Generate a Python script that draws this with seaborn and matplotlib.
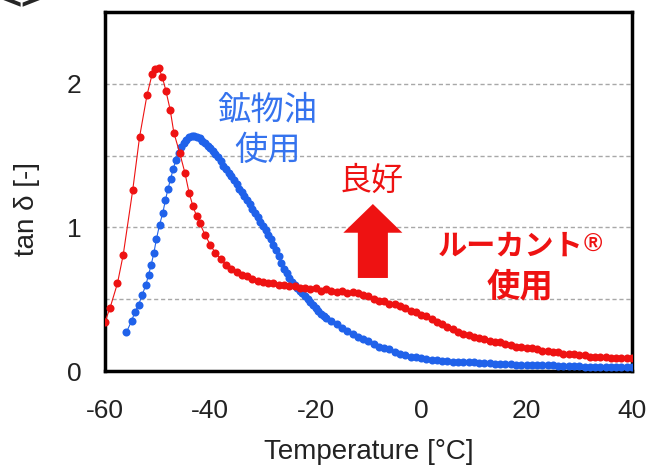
import numpy as np
import pandas as pd
import seaborn as sns
import matplotlib.pyplot as plt
from matplotlib.patches import FancyArrow

# ルーカント使用 (red)
red_temp = [-60.0, -59.0, -57.6, -56.5, -54.7, -53.4, -52.0, -51.0, -50.4, -49.8,
            -49.1, -48.4, -47.6, -46.9, -45.8, -44.8, -44.0, -43.3, -42.6,
            -42, -41, -40, -39, -38, -37, -36, -35, -34, -33, -32, -31, -30, -29,
            -28, -27, -26, -25, -24, -23, -22, -21, -20, -19, -18, -17, -16, -15,
            -14, -13, -12, -11, -10, -9, -8, -7, -6, -5, -4, -3, -2, -1, 0,
            1, 2, 3, 4, 5, 6, 7, 8, 9, 10, 11, 12, 13, 14, 15, 16, 17, 18, 19, 20,
            21, 22, 23, 24, 25, 26, 27, 28, 29, 30, 31, 32, 33, 34, 35, 36, 37, 38, 39, 40]
red_tan = [0.34, 0.44, 0.61, 0.81, 1.26, 1.63, 1.92, 2.07, 2.10, 2.11,
           2.05, 1.95, 1.82, 1.66, 1.52, 1.38, 1.24, 1.15, 1.08,
           1.03, 0.95, 0.88, 0.82, 0.78, 0.74, 0.71, 0.69, 0.67, 0.66, 0.64, 0.63, 0.62, 0.61,
           0.61, 0.60, 0.60, 0.59, 0.59, 0.58, 0.58, 0.57, 0.58, 0.56, 0.57, 0.56, 0.55, 0.56,
           0.54, 0.55, 0.54, 0.53, 0.52, 0.50, 0.49, 0.49, 0.47, 0.47, 0.45, 0.44, 0.42, 0.41, 0.39,
           0.38, 0.36, 0.34, 0.33, 0.31, 0.29, 0.27, 0.26, 0.25, 0.24, 0.23, 0.22, 0.21, 0.20, 0.20,
           0.19, 0.18, 0.17, 0.17, 0.16,
           0.16, 0.15, 0.14, 0.14, 0.13, 0.13, 0.12, 0.12, 0.12, 0.11, 0.11, 0.10, 0.10, 0.10,
           0.10, 0.09, 0.09, 0.09, 0.09, 0.09]

# 鉱物油使用 (blue)
blue_temp = [-55.9, -54.9, -54.3, -53.6, -52.9, -52.2, -51.7, -51.2, -50.7, -50.2,
             -49.6, -49.0, -48.5, -48.0, -47.5, -47.0, -46.5, -46.0, -45.5, -45.0,
             -44.5, -44.0, -43.5, -43.0, -42.5, -42.0, -41.5, -41.0, -40.5, -40.0,
             -39.5, -39.0, -38.5, -38.0, -37.5, -37.0, -36.5, -36.0, -35.5, -35.0,
             -34.5, -34.0, -33.5, -33.0, -32.5, -32.0, -31.5, -31.0, -30.5, -30.0,
             -29.5, -29.0, -28.5, -28.0, -27.5, -27.0, -26.5, -26.0, -25.5, -25.0,
             -24.5, -24.0, -23.5, -23.0, -22.5, -22.0, -21.5, -21.0, -20.5, -20.0,
             -19.5, -19.0, -18.5, -18.0,
             -17, -16, -15, -14, -13, -12, -11, -10, -9, -8, -7, -6, -5, -4, -3, -2, -1, 0,
             1, 2, 3, 4, 5, 6, 7, 8, 9, 10, 11, 12, 13, 14, 15, 16, 17, 18, 19, 20,
             21, 22, 23, 24, 25, 26, 27, 28, 29, 30, 31, 32, 33, 34, 35, 36, 37, 38, 39, 40]
blue_tan = [0.27, 0.35, 0.41, 0.46, 0.53, 0.60, 0.67, 0.74, 0.82, 0.92,
            1.02, 1.10, 1.19, 1.27, 1.34, 1.41, 1.47, 1.52, 1.56, 1.59,
            1.61, 1.63, 1.64, 1.64, 1.63, 1.62, 1.60, 1.59, 1.57, 1.55,
            1.53, 1.51, 1.49, 1.46, 1.43, 1.41, 1.38, 1.36, 1.33, 1.30,
            1.27, 1.25, 1.22, 1.19, 1.16, 1.13, 1.10, 1.07, 1.04, 1.01,
            0.98, 0.95, 0.92, 0.88, 0.84, 0.80, 0.75, 0.71, 0.68, 0.65,
            0.62, 0.60, 0.58, 0.56, 0.54, 0.52, 0.50, 0.48, 0.46, 0.44,
            0.42, 0.40, 0.38, 0.37,
            0.35, 0.33, 0.30, 0.28, 0.26, 0.24, 0.22, 0.21, 0.19, 0.17, 0.16, 0.15, 0.13,
            0.12, 0.11, 0.10, 0.095, 0.09,
            0.085, 0.08, 0.075, 0.07, 0.07, 0.065, 0.065, 0.06, 0.06, 0.06, 0.055, 0.055,
            0.055, 0.05, 0.05, 0.05, 0.05, 0.045, 0.045, 0.045,
            0.04, 0.04, 0.04, 0.04, 0.04, 0.035, 0.035, 0.035, 0.035, 0.035, 0.03, 0.03,
            0.03, 0.03, 0.03, 0.025, 0.025, 0.025, 0.025, 0.025]

xticks = [-60, -40, -20, 0, 20, 40]
yticks = [0, 1, 2]

RED = '#ee1212'
BLUE = '#2062ea'
BLUE_TXT = '#3573ee'

sns.set_style('white')
plt.rcParams['font.family'] = ['Liberation Sans', 'Noto Sans CJK JP']
plt.rcParams['axes.unicode_minus'] = False

red_df = pd.DataFrame({'T': red_temp, 'tan': red_tan})
blue_df = pd.DataFrame({'T': blue_temp, 'tan': blue_tan})

fig = plt.figure(figsize=(6.59, 4.73), dpi=100)
ax = fig.add_axes([0.159, 0.2156, 0.800, 0.759])

sns.lineplot(data=blue_df, x='T', y='tan', sort=False, estimator=None, ax=ax,
             color=BLUE, lw=0.8, marker='o', markersize=5.8, markeredgewidth=0,
             zorder=3)
sns.lineplot(data=red_df, x='T', y='tan', sort=False, estimator=None, ax=ax,
             color=RED, lw=0.8, marker='o', markersize=5.8, markeredgewidth=0,
             zorder=4)

ax.set_xlim(-60, 40)
ax.set_ylim(0, 2.5)
ax.set_xticks(xticks)
ax.set_yticks(yticks)
ax.set_yticks([0.5, 1.5, 2.5], minor=True)
ax.yaxis.grid(True, which='both', color='#a8a8a8', ls=(0, (3, 2)), lw=1)
ax.set_axisbelow(True)
ax.tick_params(axis='x', direction='in', length=4, width=0.8, labelsize=19,
               pad=20, colors='#333333', labelcolor='#222222')
ax.tick_params(axis='y', which='both', length=0, labelsize=19, pad=17,
               labelcolor='#222222')
for s in ax.spines.values():
    s.set_linewidth(2.5)
    s.set_color('black')

ax.set_xlabel('Temperature [°C]', fontsize=20, color='#222222')
ax.set_ylabel('tan δ [-]', fontsize=20, color='#222222')
ax.xaxis.set_label_coords(0.5, -0.19)
ax.yaxis.set_label_coords(-0.122, 0.451)

ax.text(-29.1, 1.67, '鉱物油\n使用', color=BLUE_TXT, fontsize=24, ha='center',
        va='center', linespacing=1.35)
ax.text(-9.3, 1.32, '良好', color=RED, fontsize=23, ha='center', va='center')
ax.add_patch(FancyArrow(-9.15, 0.648, 0, 0.515, width=5.7, head_width=11.2,
                        head_length=0.2, length_includes_head=True,
                        color=RED, lw=0, zorder=5))
lc = ax.text(17.0, 0.87, 'ルーカント', color=RED, fontsize=21, fontweight='bold',
             ha='center', va='center')
ax.annotate('®', xy=(1, 0.97), xycoords=lc, ha='left', va='top', color=RED,
            fontsize=18, fontweight='bold')
ax.text(18.8, 0.58, '使用', color=RED, fontsize=24, fontweight='bold',
        ha='center', va='center')

fig.text(0.033, 1.0, '<>', fontsize=26, fontweight='bold', ha='center', va='center')

fig.savefig('out.png', dpi=100)
